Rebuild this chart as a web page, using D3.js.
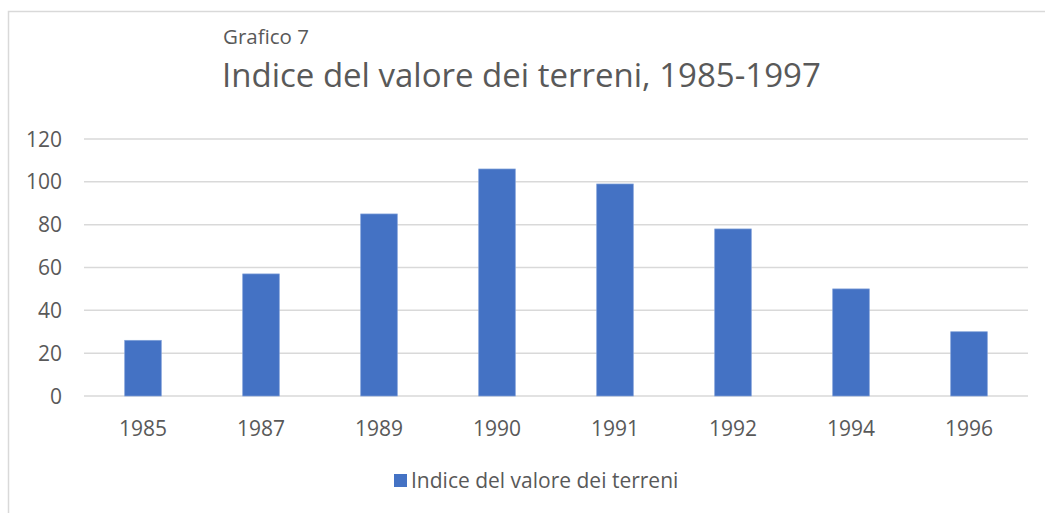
<!DOCTYPE html>
<html>
<head>
<meta charset="utf-8">
<script src="https://cdn.jsdelivr.net/npm/d3@7"></script>
<style>
  body { margin: 0; background: #fff; }
  text { font-family: "Open Sans", sans-serif; fill: #595959; }
</style>
</head>
<body>
<div id="chart"></div>
<script>
var years = ["1985", "1987", "1989", "1990", "1991", "1992", "1994", "1996"];
var values = [26, 57, 85, 106, 99, 78, 50, 30];
var yTicks = [0, 20, 40, 60, 80, 100, 120];
var seriesName = "Indice del valore dei terreni";
var supTitle = "Grafico 7";
var mainTitle = "Indice del valore dei terreni, 1985-1997";

var width = 1045, height = 513;
var barColor = "#4472c4";
var gridColor = "#d9d9d9";

var svg = d3.select("#chart").append("svg")
    .attr("width", width).attr("height", height);

// chart area border (right and bottom run past the picture)
svg.append("rect")
    .attr("x", 8.5).attr("y", 11.5)
    .attr("width", 1100).attr("height", 600)
    .attr("fill", "none")
    .attr("stroke", gridColor)
    .attr("stroke-width", 1.5);

var x = d3.scaleBand()
    .domain(years)
    .range([84, 1028])
    .paddingInner(0.69)
    .paddingOuter(0.345);

var y = d3.scaleLinear()
    .domain([0, 120])
    .range([396, 139]);

// gridlines
svg.append("g").selectAll("line")
    .data(yTicks)
    .enter().append("line")
    .attr("x1", 84).attr("x2", 1028)
    .attr("y1", function(d) { return y(d); })
    .attr("y2", function(d) { return y(d); })
    .attr("stroke", gridColor)
    .attr("stroke-width", 1.5);

// y labels
svg.append("g").selectAll("text")
    .data(yTicks)
    .enter().append("text")
    .attr("x", 62)
    .attr("y", function(d) { return y(d); })
    .attr("dy", "0.36em")
    .attr("text-anchor", "end")
    .attr("font-size", "21px")
    .text(function(d) { return d; });

// bars
svg.append("g").selectAll("rect")
    .data(values)
    .enter().append("rect")
    .attr("x", function(d, i) { return x(years[i]); })
    .attr("y", function(d) { return y(d); })
    .attr("width", x.bandwidth())
    .attr("height", function(d) { return y(0) - y(d); })
    .attr("fill", barColor)
    .attr("stroke", "#7f9fd8")
    .attr("stroke-width", 0.7);

// x labels
svg.append("g").selectAll("text")
    .data(years)
    .enter().append("text")
    .attr("x", function(d) { return x(d) + x.bandwidth() / 2; })
    .attr("y", 436)
    .attr("text-anchor", "middle")
    .attr("font-size", "21px")
    .text(function(d) { return d; });

// titles
svg.append("text")
    .attr("x", 223).attr("y", 44)
    .attr("font-size", "20.5px")
    .text(supTitle);

svg.append("text")
    .attr("x", 222).attr("y", 87)
    .attr("font-size", "33px")
    .text(mainTitle);

// legend
var legend = svg.append("g");
legend.append("rect")
    .attr("x", 394).attr("y", 474)
    .attr("width", 13).attr("height", 13)
    .attr("fill", barColor);
legend.append("text")
    .attr("x", 411).attr("y", 488)
    .attr("font-size", "21px")
    .text(seriesName);
</script>
</body>
</html>
